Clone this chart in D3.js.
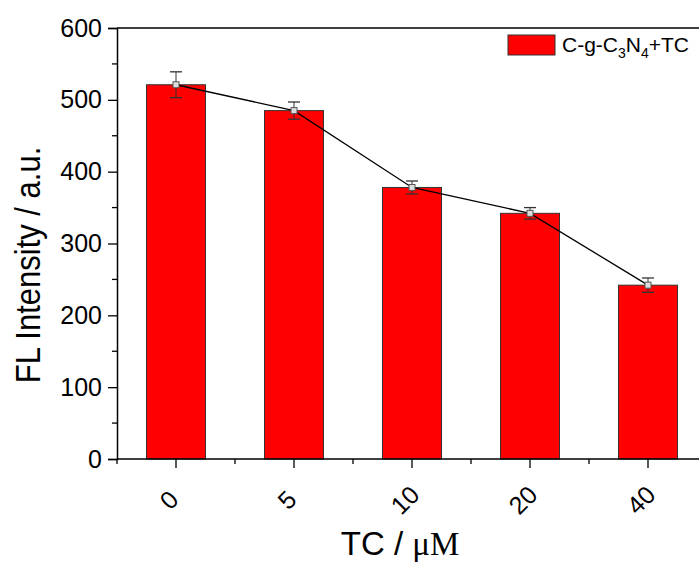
<!DOCTYPE html>
<meta charset="utf-8">
<script src="https://d3js.org/d3.v7.min.js"></script>
<style>
body { margin: 0; background: #fff; }
text { font-family: Arial, "Liberation Sans", sans-serif; fill: #000; }
</style>
<body>
<script>
var categories = ["0", "5", "10", "20", "40"];
var values = [521, 485, 378, 342, 242];
var errors = [18, 12, 9, 8, 10];
var yTicks = [0, 100, 200, 300, 400, 500, 600];
var seriesName = "C-g-C3N4+TC";

var width = 699, height = 565;
var mLeft = 117, mTop = 28, mRight = 707, mBottom = 459;

var svg = d3.select("body").append("svg")
    .attr("width", width)
    .attr("height", height);

var x = d3.scaleBand().domain(categories).range([mLeft, mRight]);
var y = d3.scaleLinear().domain([0, 600]).range([mBottom, mTop]);
var bw = x.bandwidth();

// bars
svg.append("g").selectAll("rect")
    .data(values)
    .enter().append("rect")
    .attr("x", (d, i) => x(categories[i]) + bw / 2 - bw / 4)
    .attr("y", d => y(d))
    .attr("width", bw / 2)
    .attr("height", d => y(0) - y(d))
    .attr("fill", "#ff0000")
    .attr("stroke", "#333")
    .attr("stroke-width", 1);

// line through bar tops
var cx = (d, i) => x(categories[i]) + bw / 2;
svg.append("path")
    .datum(values)
    .attr("d", d3.line().x(cx).y(d => y(d)))
    .attr("fill", "none")
    .attr("stroke", "#000")
    .attr("stroke-width", 1.3);

// error bars
var eb = svg.append("g").selectAll("g")
    .data(values)
    .enter().append("g");
eb.append("line")
    .attr("x1", cx).attr("x2", cx)
    .attr("y1", (d, i) => y(d + errors[i]))
    .attr("y2", (d, i) => y(d - errors[i]))
    .attr("stroke", "#333").attr("stroke-width", 1);
eb.append("line")
    .attr("x1", (d, i) => cx(d, i) - 6).attr("x2", (d, i) => cx(d, i) + 6)
    .attr("y1", (d, i) => y(d + errors[i]))
    .attr("y2", (d, i) => y(d + errors[i]))
    .attr("stroke", "#333").attr("stroke-width", 1.3);
eb.append("line")
    .attr("x1", (d, i) => cx(d, i) - 6).attr("x2", (d, i) => cx(d, i) + 6)
    .attr("y1", (d, i) => y(d - errors[i]))
    .attr("y2", (d, i) => y(d - errors[i]))
    .attr("stroke", "#333").attr("stroke-width", 1.3);
eb.append("rect")
    .attr("x", (d, i) => cx(d, i) - 3)
    .attr("y", d => y(d) - 3)
    .attr("width", 6).attr("height", 6)
    .attr("fill", "#ddd")
    .attr("stroke", "#555")
    .attr("stroke-width", 1);

// frame
svg.append("line")
    .attr("x1", mLeft).attr("x2", mRight)
    .attr("y1", mTop).attr("y2", mTop)
    .attr("stroke", "#000").attr("stroke-width", 1.5);

// y axis
var yAxis = svg.append("g")
    .attr("transform", "translate(" + mLeft + ",0)")
    .call(d3.axisLeft(y).tickValues(yTicks).tickSize(9).tickPadding(6));
yAxis.select(".domain").attr("stroke-width", 1.5);
yAxis.selectAll(".tick line").attr("stroke-width", 1.3);
yAxis.selectAll("text").style("font-size", "25px");
yAxis.append("g").selectAll("line")
    .data(d3.range(50, 600, 100))
    .enter().append("line")
    .attr("x1", 0).attr("x2", -5)
    .attr("y1", d => y(d)).attr("y2", d => y(d))
    .attr("stroke", "#000").attr("stroke-width", 1.3);

// x axis
var xAxis = svg.append("g")
    .attr("transform", "translate(0," + mBottom + ")");
xAxis.append("line")
    .attr("x1", mLeft).attr("x2", mRight)
    .attr("stroke", "#000").attr("stroke-width", 1.5);
xAxis.selectAll(".maj")
    .data(categories)
    .enter().append("line")
    .attr("x1", d => x(d) + bw / 2).attr("x2", d => x(d) + bw / 2)
    .attr("y1", 0).attr("y2", 9)
    .attr("stroke", "#000").attr("stroke-width", 1.3);
xAxis.selectAll(".min")
    .data(categories)
    .enter().append("line")
    .attr("x1", d => x(d)).attr("x2", d => x(d))
    .attr("y1", 0).attr("y2", 5)
    .attr("stroke", "#000").attr("stroke-width", 1.3);
xAxis.selectAll("text")
    .data(categories)
    .enter().append("text")
    .attr("transform", d => "translate(" + (x(d) + bw / 2 - 7) + ",41) rotate(-45)")
    .attr("text-anchor", "middle")
    .attr("dy", "0.35em")
    .style("font-size", "25px")
    .text(d => d);

// axis titles
svg.append("text")
    .attr("transform", "translate(40,265) scale(1.15,1) rotate(-90)")
    .attr("text-anchor", "middle")
    .style("font-size", "31px")
    .text("FL Intensity / a.u.");

var xt = svg.append("text")
    .attr("x", 400).attr("y", 555)
    .attr("text-anchor", "middle")
    .style("font-size", "33px");
xt.append("tspan").text("TC / ");
xt.append("tspan").style("font-family", "'Liberation Serif', 'DejaVu Serif', serif").text("\u03bcM");

// legend
var lg = svg.append("g").attr("transform", "translate(508,35)");
lg.append("rect")
    .attr("width", 47).attr("height", 20)
    .attr("fill", "#ff0000")
    .attr("stroke", "#333");
var lt = lg.append("text")
    .attr("x", 54).attr("y", 17)
    .style("font-size", "21px");
lt.append("tspan").text("C-g-C");
lt.append("tspan").attr("dy", 6).style("font-size", "14px").text("3");
lt.append("tspan").attr("dy", -6).text("N");
lt.append("tspan").attr("dy", 6).style("font-size", "14px").text("4");
lt.append("tspan").attr("dy", -6).text("+TC");
</script>
</body>
